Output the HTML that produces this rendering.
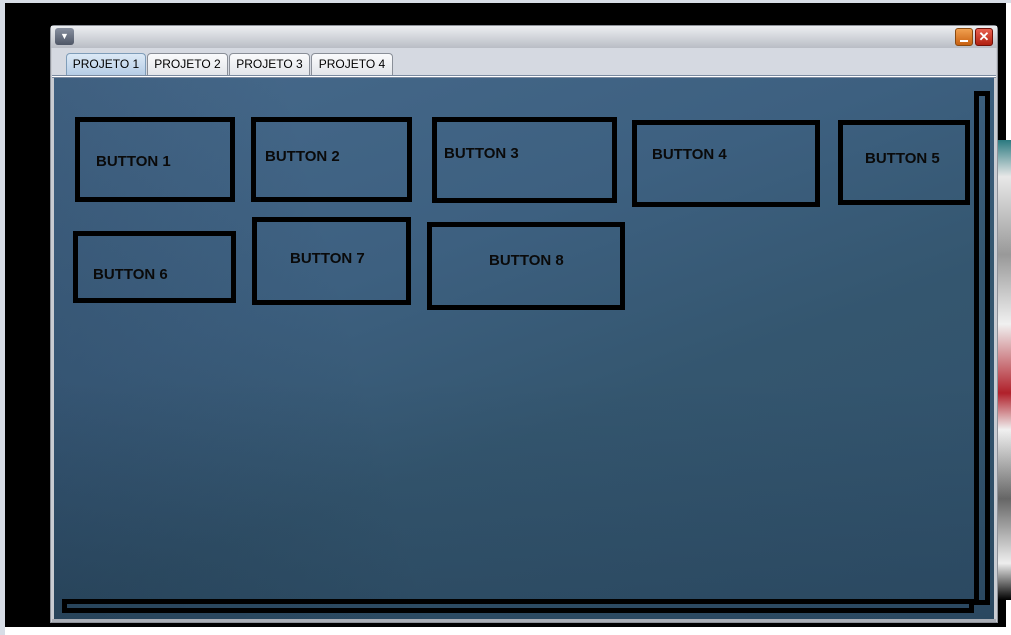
<!DOCTYPE html>
<html style="overflow:hidden;width:1011px;height:635px"><head><meta charset="utf-8"><style>
*{margin:0;padding:0;box-sizing:border-box}
body{width:1011px;height:635px;position:relative;overflow:hidden;background:#fff;font-family:"Liberation Sans",sans-serif}
.a{position:absolute}
.b{position:absolute;border:5px solid #000}
.t{position:absolute;font-weight:bold;font-size:15px;color:#0a0a0a;white-space:nowrap;line-height:1}
.tab{position:absolute;top:53px;height:22px;border:1px solid #8a8f98;border-bottom:none;border-radius:4px 4px 0 0;background:linear-gradient(#fafbfc,#e3e6ea);font-size:12px;line-height:20px;text-align:center;color:#000}
</style></head><body>
<div class="a" style="left:0;top:0;width:1011px;height:3px;background:#d7dde6"></div>
<div class="a" style="left:0;top:0;width:5px;height:635px;background:#d7dde6"></div>
<div class="a" style="left:5px;top:3px;width:1001px;height:624px;background:#000"></div>
<div class="a" style="left:998px;top:140px;width:13px;height:460px;background:linear-gradient(#2a7a80 0%,#e8e8e8 8%,#999 25%,#f0f0f0 40%,#b0202a 55%,#f0f0f0 63%,#666 78%,#eee 92%,#000 100%)"></div>
<div class="a" style="left:50px;top:25px;width:948px;height:598px;background:#c9ccd2;border:1px solid #8d9199;border-radius:4px 4px 0 0"></div>
<div class="a" style="left:51px;top:26px;width:946px;height:22px;background:linear-gradient(#eceef1,#b9bdc5)"></div>
<div class="a" style="left:55px;top:28px;width:19px;height:17px;border-radius:3px;background:linear-gradient(#8890a0,#4e5666);color:#fff;font-size:9px;text-align:center;line-height:17px">▼</div>
<div class="a" style="left:955px;top:28px;width:18px;height:18px;border-radius:3px;background:linear-gradient(#f0a050,#c86010);border:1px solid #8a4a10"><div class="a" style="left:4px;top:11px;width:8px;height:2px;background:#fff"></div></div>
<div class="a" style="left:975px;top:28px;width:18px;height:18px;border-radius:3px;background:linear-gradient(#e86050,#b02010);border:1px solid #701008;color:#fff;font-size:13px;font-weight:bold;text-align:center;line-height:15px">✕</div>
<div class="a" style="left:52px;top:48px;width:944px;height:30px;background:#d5d9e1"></div>
<div class="tab" style="left:66px;width:80px;background:linear-gradient(#dce9f6,#b6cde6);border-color:#7f9db9">PROJETO 1</div>
<div class="tab" style="left:147px;width:81px">PROJETO 2</div>
<div class="tab" style="left:229px;width:81px">PROJETO 3</div>
<div class="tab" style="left:311px;width:82px">PROJETO 4</div>
<div class="a" style="left:52px;top:75px;width:944px;height:3px;background:#fff;border-top:1px solid #7a8aa0;border-bottom:1px solid #7a8aa0"></div>
<div class="a" style="left:54px;top:78px;width:940px;height:541px;overflow:hidden;background:linear-gradient(160deg,#46698b 0%,#3d6080 35%,#34566f 60%,#30506a 100%)">
<div class="a" style="left:0;top:0;width:940px;height:541px;background:linear-gradient(75deg,rgba(15,30,50,0.2) 0%,rgba(15,30,50,0) 35%)"></div>
<div class="a" style="left:0;top:300px;width:940px;height:241px;background:linear-gradient(rgba(0,0,0,0),rgba(10,25,40,0.15))"></div>
</div>
<div class="a" style="left:52px;top:619px;width:944px;height:3px;background:#a9adb5"></div>
<div class="b" style="left:974px;top:91px;width:16px;height:514px"></div>
<div class="b" style="left:62px;top:599px;width:912px;height:14px"></div>
<div class="b" style="left:75px;top:117px;width:160px;height:85px"></div>
<div class="b" style="left:251px;top:117px;width:161px;height:85px"></div>
<div class="b" style="left:432px;top:117px;width:185px;height:86px"></div>
<div class="b" style="left:632px;top:120px;width:188px;height:87px"></div>
<div class="b" style="left:838px;top:120px;width:132px;height:85px"></div>
<div class="b" style="left:73px;top:231px;width:163px;height:72px"></div>
<div class="b" style="left:252px;top:217px;width:159px;height:88px"></div>
<div class="b" style="left:427px;top:222px;width:198px;height:88px"></div>
<div class="t" style="left:96px;top:154px">BUTTON 1</div>
<div class="t" style="left:265px;top:149px">BUTTON 2</div>
<div class="t" style="left:444px;top:146px">BUTTON 3</div>
<div class="t" style="left:652px;top:147px">BUTTON 4</div>
<div class="t" style="left:865px;top:151px">BUTTON 5</div>
<div class="t" style="left:93px;top:267px">BUTTON 6</div>
<div class="t" style="left:290px;top:251px">BUTTON 7</div>
<div class="t" style="left:489px;top:253px">BUTTON 8</div>
</body></html>
